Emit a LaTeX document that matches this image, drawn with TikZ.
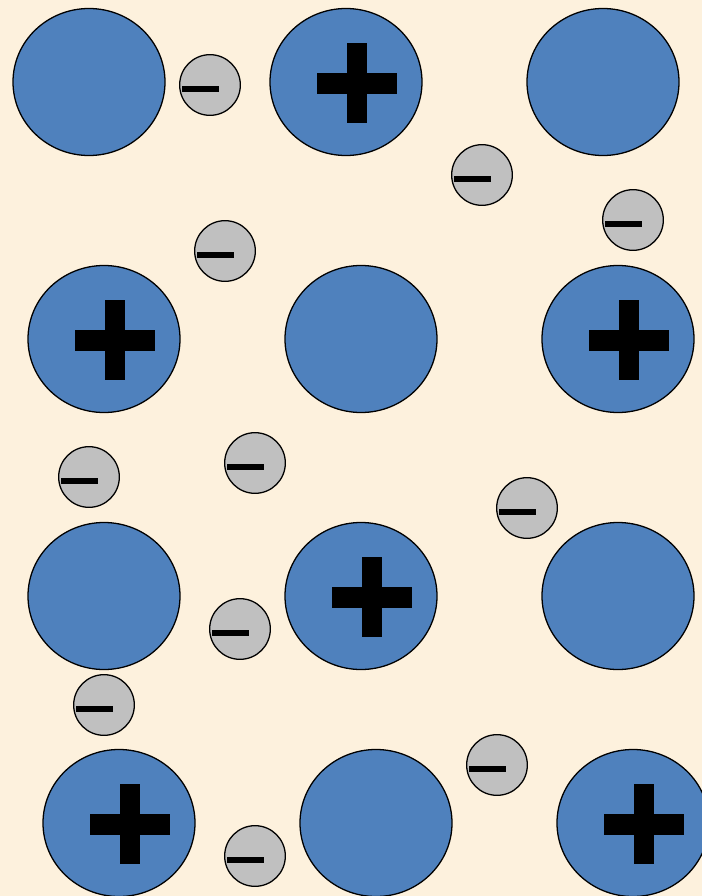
\documentclass[tikz,border=0pt]{standalone}
\usetikzlibrary{shapes.geometric}
\definecolor{ionblue}{HTML}{4F81BD}
\definecolor{elgray}{HTML}{C0C0C0}
\definecolor{bgcream}{HTML}{FDF1DD}
\begin{document}
\begin{tikzpicture}[
  x=0.03cm, y=-0.03cm,
  ion/.style={ellipse, draw, line width=1.1pt, fill=ionblue, inner sep=0pt, minimum width=4.56cm, minimum height=4.41cm},
  cation/.style={ion, path picture={
      \fill[black] ([shift={(-29,-9)}]path picture bounding box.center) rectangle ([shift={(51,12)}]path picture bounding box.center);
      \fill[black] ([shift={(1,-39)}]path picture bounding box.center) rectangle ([shift={(21,41)}]path picture bounding box.center);}},
  electron/.style={circle, draw, line width=1.1pt, fill=elgray, inner sep=0pt, minimum size=1.82cm, path picture={
      \fill[black] ([shift={(-28,1)}]path picture bounding box.center) rectangle ([shift={(9,7)}]path picture bounding box.center);}}
]
\path[use as bounding box, fill=bgcream] (0,0) rectangle (702,896);
\clip (0,0) rectangle (702,896);
% lattice ions
\node[ion] (a1) at (89,82) {};
\node[cation] (a2) at (346,82) {};
\node[ion] (a3) at (603,82) {};
\node[cation] (b1) at (104,339) {};
\node[ion] (b2) at (361,339) {};
\node[cation] (b3) at (618,339) {};
\node[ion] (c1) at (104,596) {};
\node[cation] (c2) at (361,596) {};
\node[ion] (c3) at (618,596) {};
\node[cation] (d1) at (119,823) {};
\node[ion] (d2) at (376,823) {};
\node[cation] (d3) at (633,823) {};
% free electrons
\node[electron] (e1) at (210,85) {};
\node[electron] (e2) at (482,175) {};
\node[electron] (e3) at (633,220) {};
\node[electron] (e4) at (225,251) {};
\node[electron] (e5) at (89,477) {};
\node[electron] (e6) at (255,463) {};
\node[electron] (e7) at (527,508) {};
\node[electron] (e8) at (240,629) {};
\node[electron] (e9) at (104,705) {};
\node[electron] (e10) at (497,765) {};
\node[electron] (e11) at (255,856) {};
\end{tikzpicture}
\end{document}
